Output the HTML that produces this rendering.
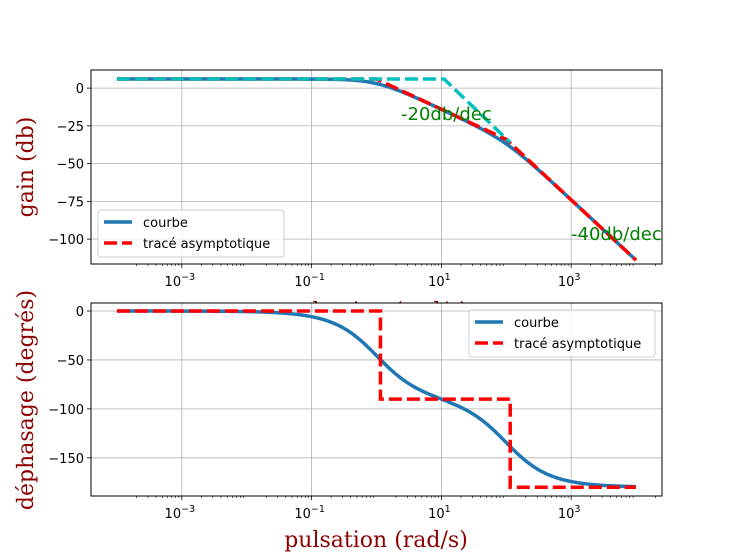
<!DOCTYPE html>
<html><head><meta charset="utf-8"><style>body{margin:0;background:#fff}svg{display:block}</style></head>
<body>
<svg id="c" width="735" height="556" xmlns="http://www.w3.org/2000/svg" font-family="DejaVu Sans, Liberation Sans, sans-serif"></svg>
<script>
const ticksX=[-3,-1,1,3];
const gainTicks=[0,-25,-50,-75,-100];
const phaseTicks=[0,-50,-100,-150];
const asymGainW=[1e-4,1,100,1e4];
const asymGainV=[6.02,6.02,-33.98,-113.98];
const cyanW=[1e-4,11,115];
const cyanV=[6.02,6.02,-36];
const asymPhaseW=[1e-4,1.15,1.15,115,115,1e4];
const asymPhaseV=[0,0,-90,-90,-180,-180];
const K=2, p1=1, p2=100;

const NS="http://www.w3.org/2000/svg", svg=document.getElementById('c');
function el(t,a,parent){const e=document.createElementNS(NS,t);for(const k in a)e.setAttribute(k,a[k]);(parent||svg).appendChild(e);return e;}
const X0=91,X1=662,LMIN=-4.4,LMAX=4.4;
const sx=w=>X0+(Math.log10(w)-LMIN)/(LMAX-LMIN)*(X1-X0);
function mk(top,bot,ymax,ymin){return v=>top+(ymax-v)/(ymax-ymin)*(bot-top);}
const syG=mk(70,264,12.0,-116.5), syP=mk(303,496,8.2,-189);
const SERIF='DejaVu Serif, Liberation Serif, serif';

let t=el('text',{x:376,y:318,'text-anchor':'middle','font-size':22,fill:'#8b0000','font-family':SERIF});t.textContent='pulsation (rad/s)';


function panel(top,bot,sy,yt,name){
  const g=el('g',{});
  
  el('rect',{x:X0,y:top,width:X1-X0,height:bot-top,fill:'#fff'},g);
  ticksX.forEach(d=>{const x=sx(Math.pow(10,d));
    el('line',{x1:x,x2:x,y1:top,y2:bot,stroke:'#b0b0b0','stroke-width':0.8},g);
    el('line',{x1:x,x2:x,y1:bot,y2:bot+4,stroke:'#000','stroke-width':0.8},g);
    const tx=el('text',{x:x-2,y:bot+22,'text-anchor':'middle','font-size':13},g);tx.textContent='10';
    const sp=el('tspan',{dy:-6,'font-size':9.5},tx);sp.textContent=(d<0?'\u2212':'')+Math.abs(d);
    
  });
  for(let d=-4;d<=4;d++)for(let m=2;m<10;m++){const x=sx(m*Math.pow(10,d));if(x>X0&&x<X1)el('line',{x1:x,x2:x,y1:bot,y2:bot+2,stroke:'#000','stroke-width':0.6},g);}
  yt.forEach(v=>{const y=sy(v);
    el('line',{x1:X0,x2:X1,y1:y,y2:y,stroke:'#b0b0b0','stroke-width':0.8},g);
    el('line',{x1:X0-4,x2:X0,y1:y,y2:y,stroke:'#000','stroke-width':0.8},g);
    const tx=el('text',{x:X0-7,y:y+5,'text-anchor':'end','font-size':13},g);tx.textContent=v<0?'\u2212'+(-v):v;
    
  });
  return g;
}
function poly(ws,vs,sy,attrs,name){const p=ws.map((w,i)=>sx(w).toFixed(2)+','+sy(vs[i]).toFixed(2)).join(' ');
  const e=el('polyline',Object.assign({points:p,fill:'none'},attrs));return e;}
function frame(top,bot){el('rect',{x:X0,y:top,width:X1-X0,height:bot-top,fill:'none',stroke:'#000','stroke-width':1});}
function legend(x,y,name){const g=el('g',{});
  el('rect',{x:x,y:y,width:186,height:47,rx:3,fill:'#fff','fill-opacity':0.8,stroke:'#ccc'},g);
  el('line',{x1:x+6,x2:x+34,y1:y+12,y2:y+12,stroke:'#1f77b4','stroke-width':3.5},g);
  let a=el('text',{x:x+45,y:y+17,'font-size':13},g);a.textContent='courbe';
  el('line',{x1:x+6,x2:x+34,y1:y+33,y2:y+33,stroke:'#f00','stroke-width':3.5,'stroke-dasharray':'13 5'},g);
  a=el('text',{x:x+45,y:y+38,'font-size':13},g);a.textContent='tracé asymptotique';}

const ws=[];for(let i=0;i<=400;i++)ws.push(Math.pow(10,-4+8*i/400));
const gv=ws.map(w=>20*Math.log10(K)-10*Math.log10(1+(w/p1)**2)-10*Math.log10(1+(w/p2)**2));
const pv=ws.map(w=>-(Math.atan(w/p1)+Math.atan(w/p2))*180/Math.PI);

panel(70,264,syG,gainTicks,'gain-axes');
poly(ws,gv,syG,{stroke:'#1f77b4','stroke-width':3.5},'gain-curve');
poly(asymGainW,asymGainV,syG,{stroke:'#f00','stroke-width':3.5,'stroke-dasharray':'13 5'},'gain-asymptote');
poly(cyanW,cyanV,syG,{stroke:'#00bfbf','stroke-width':3.5,'stroke-dasharray':'13 5'},'gain-40db-guide');
frame(70,264);
t=el('text',{x:401,y:120,'font-size':18,fill:'green'});t.textContent='-20db/dec';
t=el('text',{x:571,y:240,'font-size':18,fill:'green'});t.textContent='-40db/dec';
legend(98,210,'gain-legend');

panel(303,496,syP,phaseTicks,'phase-axes');
poly(ws,pv,syP,{stroke:'#1f77b4','stroke-width':3.5},'phase-curve');
poly(asymPhaseW,asymPhaseV,syP,{stroke:'#f00','stroke-width':3.5,'stroke-dasharray':'13 5'},'phase-asymptote');
frame(303,496);
legend(469,310,'phase-legend');

t=el('text',{x:376,y:547,'text-anchor':'middle','font-size':22,fill:'#8b0000','font-family':SERIF});t.textContent='pulsation (rad/s)';
t=el('text',{x:0,y:0,'text-anchor':'middle','font-size':22,fill:'#8b0000','font-family':SERIF,transform:'translate(33,167) rotate(-90)'});t.textContent='gain (db)';
t=el('text',{x:0,y:0,'text-anchor':'middle','font-size':22,fill:'#8b0000','font-family':SERIF,transform:'translate(33,400) rotate(-90)'});t.textContent='déphasage (degrés)';
</script>
</body></html>
